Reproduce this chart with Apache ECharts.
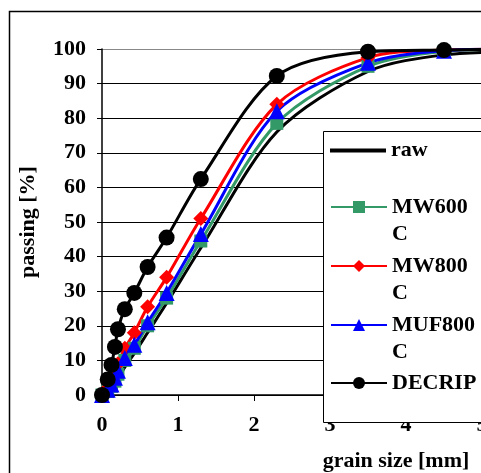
<!DOCTYPE html>
<html>
<head>
<meta charset="utf-8">
<script src="https://cdn.jsdelivr.net/npm/echarts@6/dist/echarts.min.js"></script>
<style>
  html, body { margin: 0; padding: 0; background: #fff; }
  #chart { width: 481px; height: 473px; }
</style>
</head>
<body>
<div id="chart"></div>
<script>
  // tamaños de grano (mm) y porcentaje que pasa
  const grainSize = [0, 0.075, 0.125, 0.17, 0.21, 0.3, 0.425, 0.6, 0.85, 1.3, 2.3, 3.5, 4.5, 5.6];
  const raw      = [0, 0.5, 1.5, 3, 4.5, 8, 12, 18, 26.5, 42.5, 76, 93.5, 98.3, 99.2];
  const mw600c   = [0, 1, 2.5, 4, 6, 10, 13.5, 20, 28, 44.5, 78.5, 95, 99.3, 100];
  const mw800c   = [0, 2, 4, 6.5, 9, 13.5, 18, 25.5, 34, 51, 84, 97.5, 99.7, 100];
  const muf800c  = [0, 1.5, 3, 5, 7, 10.7, 14.5, 21, 29.5, 46.5, 82, 96, 99.5, 100];
  const decrip   = [0, 4.5, 8.7, 13.9, 19, 24.8, 29.5, 37, 45.5, 62.4, 92.2, 99.2, 99.7, 100];
  const yTicks = [0, 10, 20, 30, 40, 50, 60, 70, 80, 90, 100];

  const font = 'Liberation Serif';
  const pares = ys => grainSize.map((x, i) => [x, ys[i]]);

  const mkSerie = (name, ys, color, symbol, size) => ({
      name: name,
      type: 'line',
      data: pares(ys),
      smooth: 0.3,
      symbol: symbol,
      symbolSize: size,
      showSymbol: symbol !== 'none',
      lineStyle: { color: color, width: 3 },
      itemStyle: { color: color },
      emphasis: { disabled: true }
  });

  const chart = echarts.init(document.getElementById('chart'));

  const legendText = { fontFamily: font, fontWeight: 'bold', fontSize: 22, color: '#000', lineHeight: 27 };
  // linea en blanco delante para que la primera linea quede a la altura del simbolo
  const mkLegend = (name, top, extra) => Object.assign({
      data: [name],
      orient: 'vertical',
      left: 330,
      top: top,
      padding: 0,
      itemWidth: 56,
      itemHeight: 15,
      z: 10,
      selectedMode: false,
      formatter: n => /\d+C$/.test(n) ? '\n' + n.replace(/(\d+)C$/, '$1\nC') : n,
      textStyle: legendText
  }, extra || {});

  const splitColors = yTicks.map(v => v === 100 ? '#888' : '#000');

  const option = {
      animation: false,
      backgroundColor: '#fff',
      grid: { left: 102, top: 49, width: 456, height: 346, outerBoundsMode: 'none' },
      xAxis: {
          type: 'value',
          min: 0, max: 6, interval: 1,
          name: 'grain size [mm]',
          nameLocation: 'middle',
          nameGap: 55,
          nameTextStyle: { fontFamily: font, fontWeight: 'bold', fontSize: 22, color: '#000', padding: [0, 0, 0, 132] },
          axisLine: { lineStyle: { color: '#000', width: 1.5 } },
          axisTick: { length: 6, lineStyle: { color: '#000' } },
          axisLabel: { fontFamily: font, fontWeight: 'bold', fontSize: 22, color: '#000', margin: 19 },
          splitLine: { show: false }
      },
      yAxis: {
          type: 'value',
          min: 0, max: 100, interval: 10,
          name: 'passing [%]',
          nameLocation: 'middle',
          nameGap: 63,
          nameTextStyle: { fontFamily: font, fontWeight: 'bold', fontSize: 22, color: '#000' },
          axisLine: { show: true, lineStyle: { color: '#000', width: 1.5 } },
          axisTick: { show: true, length: 5, lineStyle: { color: '#000' } },
          axisLabel: { fontFamily: font, fontWeight: 'bold', fontSize: 22, color: '#000', margin: 16 },
          splitLine: { lineStyle: { color: splitColors, width: 1 } }
      },
      legend: [
          mkLegend('raw', 137, { icon: 'rect', itemHeight: 4, itemStyle: { color: '#000' } }),
          mkLegend('MW600C', 166.5),
          mkLegend('MW800C', 225.5),
          mkLegend('MUF800C', 284.5),
          mkLegend('DECRIP', 369.5)
      ],
      graphic: [
          { type: 'rect', z: 5, shape: { x: 9.5, y: 11.5, width: 600, height: 600 },
            style: { fill: 'none', stroke: '#000', lineWidth: 1.5 } },
          { type: 'rect', z: 6, shape: { x: 323.5, y: 131.5, width: 300, height: 291 },
            style: { fill: '#fff', stroke: '#000', lineWidth: 1 } }
      ],
      series: [
          mkSerie('raw', raw, '#000', 'none', 0),
          mkSerie('MW600C', mw600c, '#339966', 'rect', 13),
          mkSerie('MW800C', mw800c, '#ff0000', 'diamond', 15),
          mkSerie('MUF800C', muf800c, '#0000ff', 'triangle', 16),
          mkSerie('DECRIP', decrip, '#000', 'circle', 16)
      ]
  };

  chart.setOption(option);
</script>
</body>
</html>
